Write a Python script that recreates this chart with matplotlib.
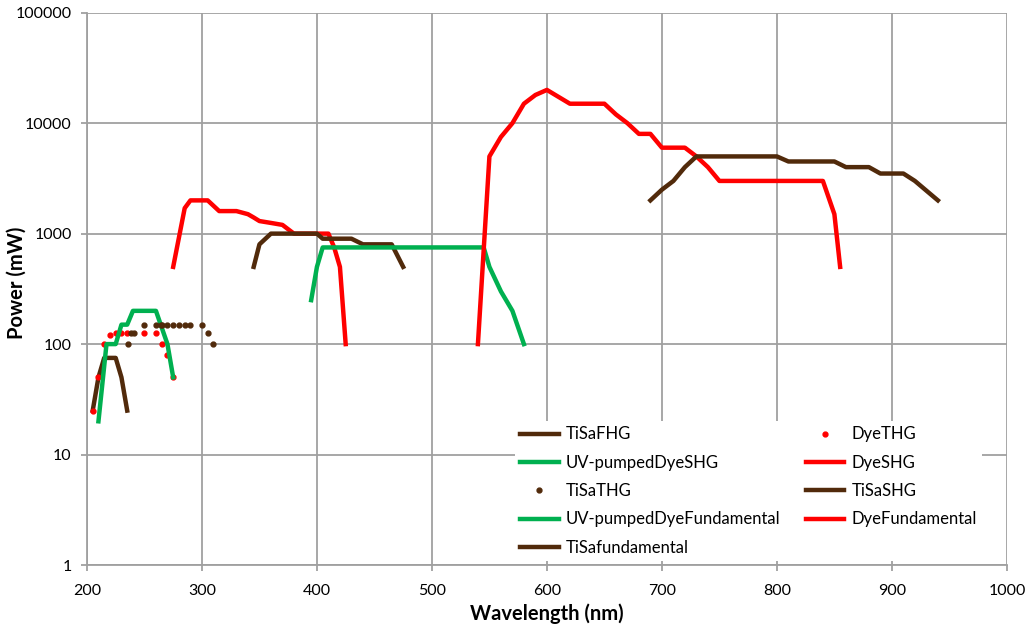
import numpy as np
import matplotlib
matplotlib.use("Agg")
import matplotlib.pyplot as plt
from matplotlib.legend_handler import HandlerLine2D

# wavelength (nm) / power (mW)
tisa_fhg_x = [205, 210, 215, 225, 230, 235]
tisa_fhg_y = [25, 50, 75, 75, 50, 25]

dye_thg_x = [205, 210, 215, 220, 225, 230, 235, 250, 260, 265, 270, 275]
dye_thg_y = [25, 50, 100, 120, 125, 125, 125, 125, 125, 100, 80, 50]

uv_dye_shg_x = [210, 217, 225, 230, 235, 240, 260, 270, 275]
uv_dye_shg_y = [20, 100, 100, 150, 150, 200, 200, 100, 50]

dye_shg_x = [275, 285, 290, 305, 315, 330, 340, 345, 350, 360, 370, 380, 410, 415, 420, 425]
dye_shg_y = [500, 1700, 2000, 2000, 1600, 1600, 1500, 1400, 1300, 1250, 1200, 1000, 1000, 750, 500, 100]

tisa_thg_x = [236, 238, 241, 250, 260, 264, 265, 270, 275, 280, 285, 290, 300, 305, 310]
tisa_thg_y = [100, 125, 125, 150, 150, 150, 150, 150, 150, 150, 150, 150, 150, 125, 100]

tisa_shg_x = [345, 350, 360, 400, 405, 430, 440, 465, 475]
tisa_shg_y = [500, 800, 1000, 1000, 900, 900, 800, 800, 500]

uv_dye_fund_x = [395, 400, 405, 545, 550, 560, 570, 580]
uv_dye_fund_y = [250, 500, 750, 750, 500, 300, 200, 100]

dye_fund_x = [540, 550, 560, 570, 580, 590, 600, 620, 650, 660, 670, 680, 690,
              700, 720, 730, 740, 750, 840, 850, 855]
dye_fund_y = [100, 5000, 7500, 10000, 15000, 18000, 20000, 15000, 15000, 12000, 10000, 8000, 8000,
              6000, 6000, 5000, 4000, 3000, 3000, 1500, 500]

tisa_fund_x = [690, 700, 710, 720, 730, 800, 810, 850, 860, 880, 890, 910, 920, 940]
tisa_fund_y = [2000, 2500, 3000, 4000, 5000, 5000, 4500, 4500, 4000, 4000, 3500, 3500, 3000, 2000]

brown = "#512A0B"
red = "#FF0000"
green = "#00B050"
grid_col = "#A0A0A0"

plt.rcParams["font.family"] = ["Lato", "DejaVu Sans"]
plt.rcParams["font.size"] = 11.5

fig = plt.figure(figsize=(10.29, 6.26), dpi=100)
ax = fig.add_axes([0.0845, 0.0974, 0.894, 0.8823])

lw = 3.2
h1, = ax.plot(tisa_fhg_x, tisa_fhg_y, color=brown, lw=lw, label="TiSaFHG")
h2, = ax.plot(dye_thg_x, dye_thg_y, "o", color=red, ms=3.5, label="DyeTHG")
h3, = ax.plot(uv_dye_shg_x, uv_dye_shg_y, color=green, lw=lw, label="UV-pumpedDyeSHG")
h4, = ax.plot(dye_shg_x, dye_shg_y, color=red, lw=lw, label="DyeSHG")
h5, = ax.plot(tisa_thg_x, tisa_thg_y, "o", color=brown, ms=3.5, label="TiSaTHG")
h6, = ax.plot(tisa_shg_x, tisa_shg_y, color=brown, lw=lw, label="TiSaSHG")
h7, = ax.plot(uv_dye_fund_x, uv_dye_fund_y, color=green, lw=lw, label="UV-pumpedDyeFundamental")
h8, = ax.plot(dye_fund_x, dye_fund_y, color=red, lw=lw, label="DyeFundamental")
h9, = ax.plot(tisa_fund_x, tisa_fund_y, color=brown, lw=lw, label="TiSafundamental")

ax.set_yscale("log")
ax.set_xlim(200, 1000)
ax.set_ylim(1, 100000)
ax.set_xticks(range(200, 1001, 100))
ax.set_yticks([1, 10, 100, 1000, 10000, 100000])
ax.set_yticklabels(["1", "10", "100", "1000", "10000", "100000"])
ax.yaxis.set_minor_locator(matplotlib.ticker.NullLocator())
ax.grid(True, color=grid_col, lw=1.3)
ax.set_axisbelow(True)
for s in ["top", "right"]:
    ax.spines[s].set_visible(False)
for s in ["left", "bottom"]:
    ax.spines[s].set_color(grid_col)
    ax.spines[s].set_linewidth(1.3)
ax.tick_params(direction="out", length=4, width=1.3, color=grid_col)
ax.tick_params(axis="x", pad=9.5)
ax.tick_params(axis="y", pad=7)
ax.set_xlabel("Wavelength (nm)", fontweight="bold", fontsize=14.5, labelpad=4)
ax.set_ylabel("Power (mW)", fontweight="bold", fontsize=14.5)
ax.yaxis.set_label_coords(-0.065, 0.511)


class LeftDot(HandlerLine2D):
    def get_xdata(self, legend, xdescent, ydescent, width, height, fontsize):
        xd, xm = super().get_xdata(legend, xdescent, ydescent, width, height, fontsize)
        return xd, np.array([-xdescent + 0.12 * width])


handles = [h1, h3, h5, h7, h9, h2, h4, h6, h8]
leg = ax.legend(handles=handles, ncol=2, loc="upper left", fontsize=12,
                bbox_to_anchor=(0.4565, 0.275), frameon=True, facecolor="white",
                edgecolor="none", framealpha=1, fancybox=False,
                handlelength=2.3, handletextpad=0.45, columnspacing=1.5,
                labelspacing=0.74, borderpad=0.3,
                handler_map={h2: LeftDot(numpoints=1), h5: LeftDot(numpoints=1)})

fig.savefig("out.png", dpi=100)
